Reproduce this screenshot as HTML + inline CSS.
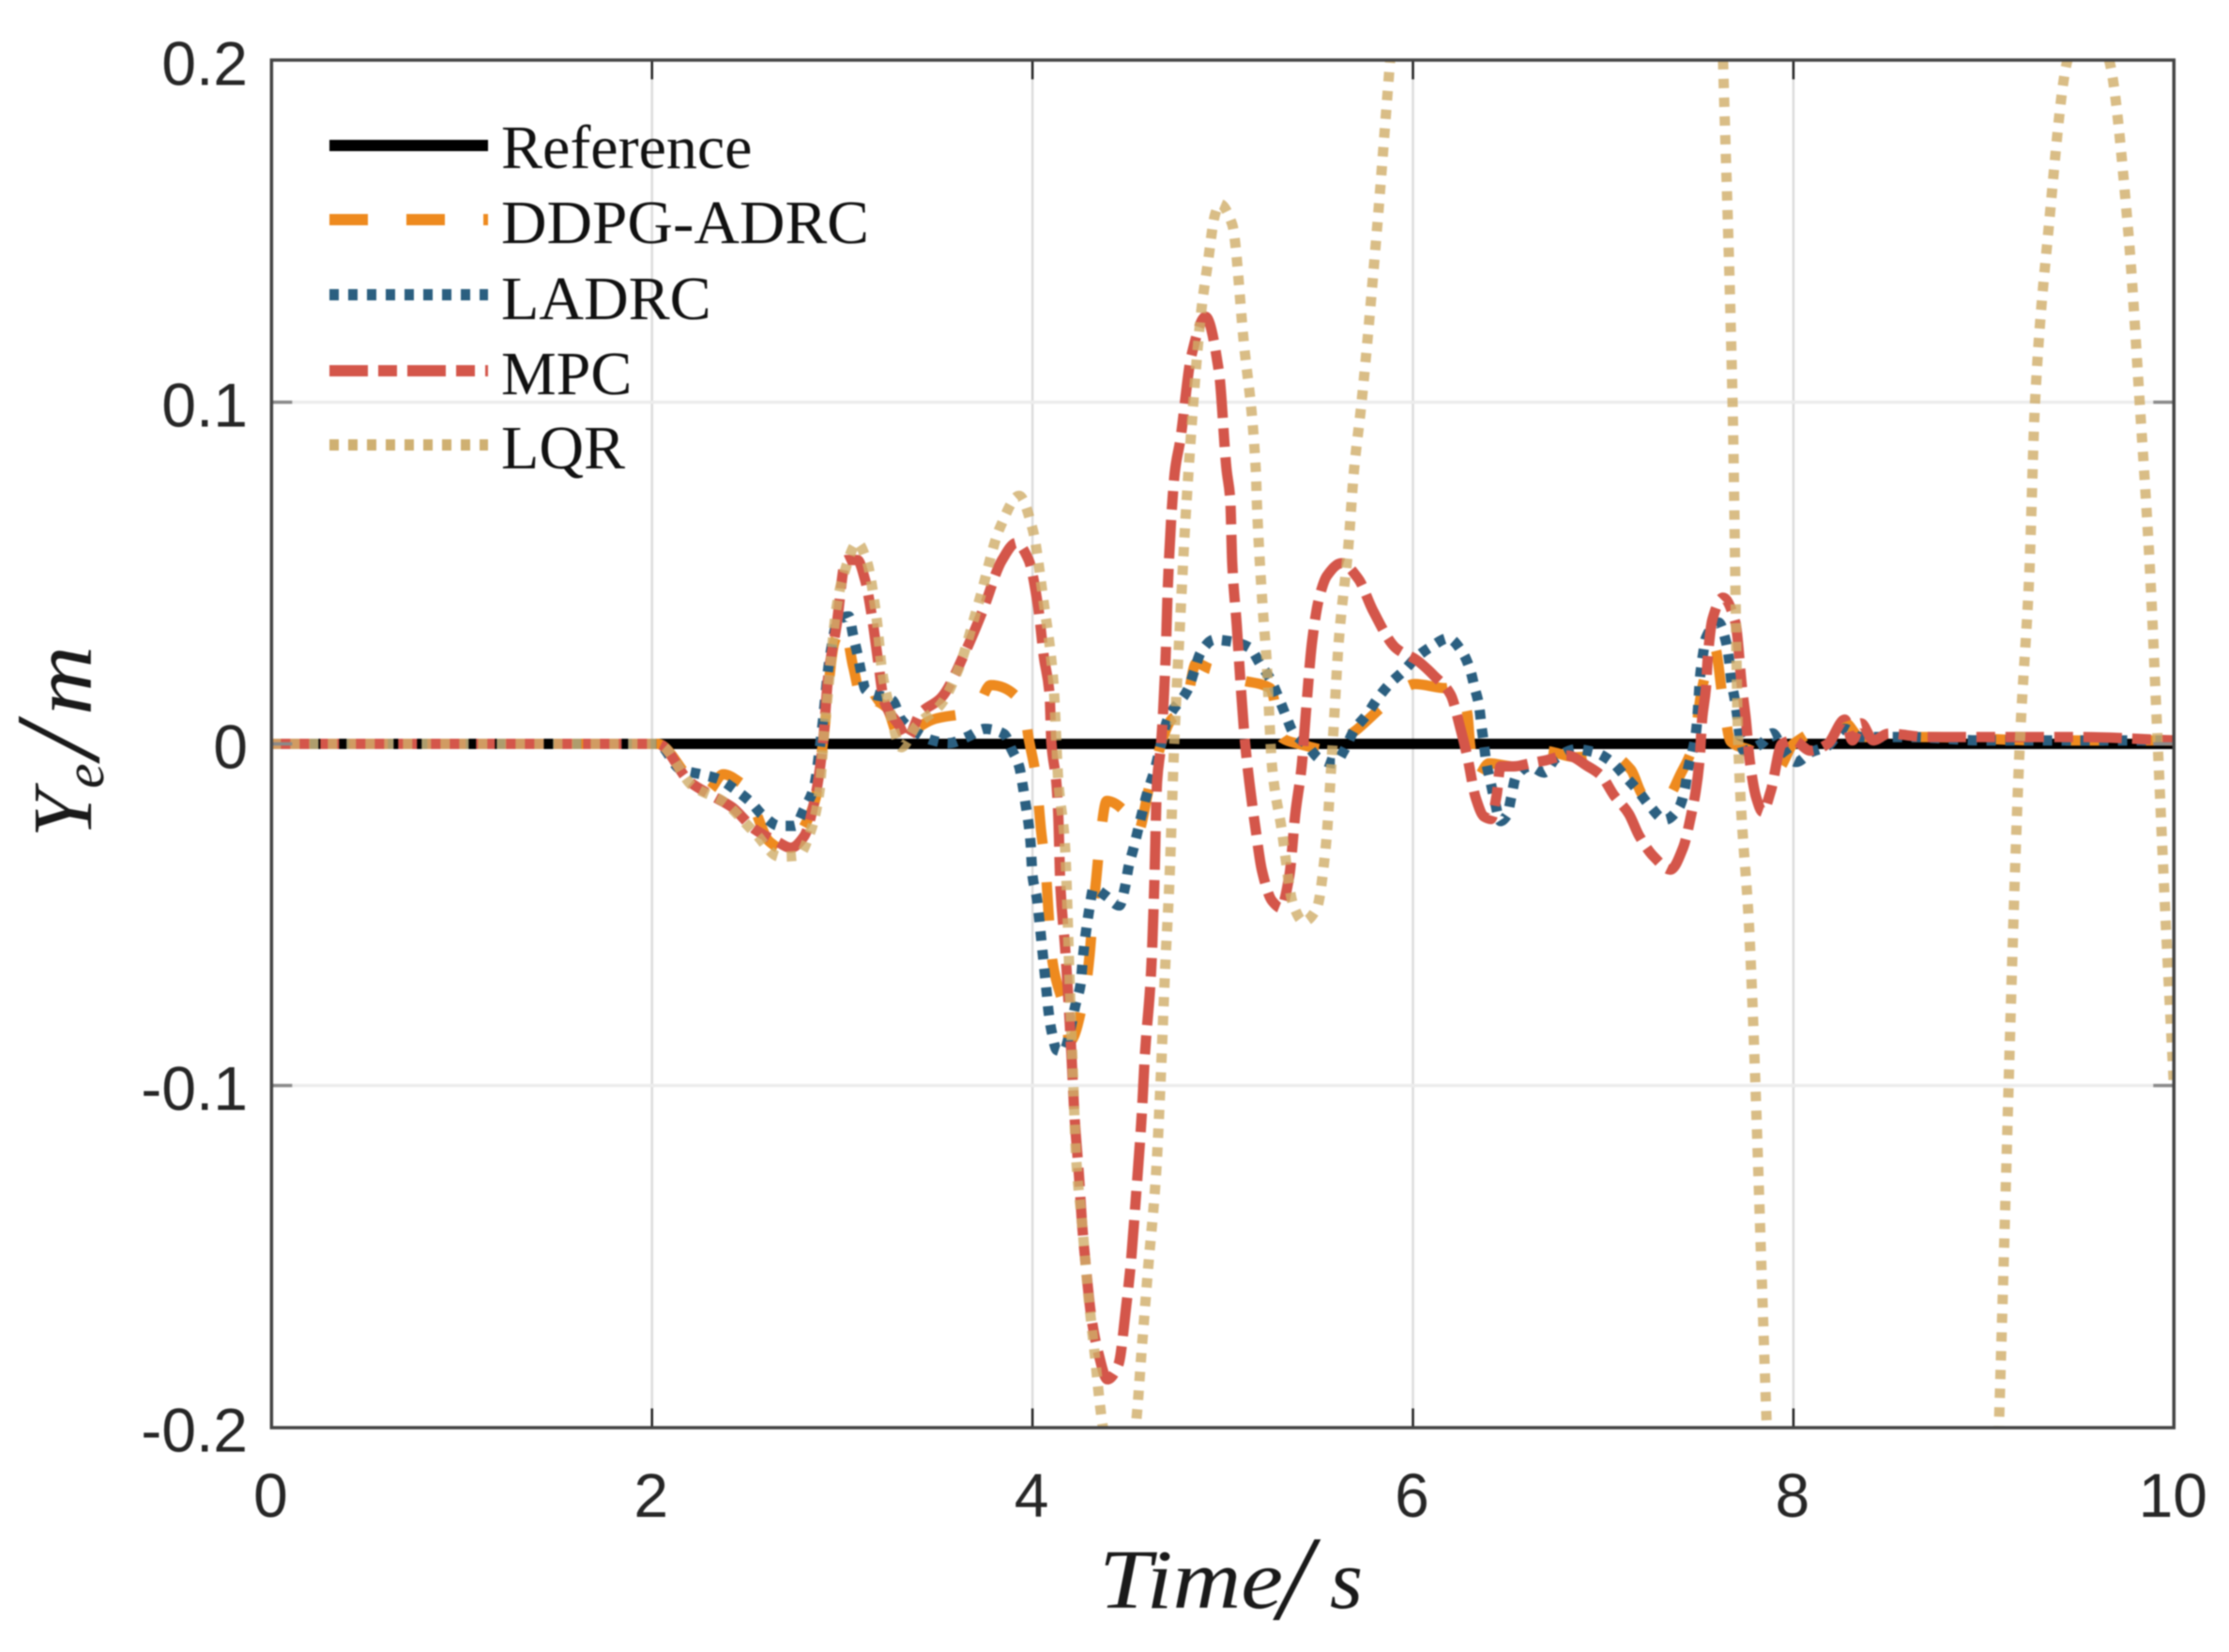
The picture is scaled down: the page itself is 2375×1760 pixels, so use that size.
<!DOCTYPE html>
<html lang="en">
<head>
<meta charset="utf-8">
<title>Lateral error Ye over time</title>
<style>
  html, body { margin: 0; padding: 0; background: #fff; }
  body { width: 2375px; height: 1760px; overflow: hidden; }
  svg { display: block; filter: blur(0.8px); }
  .tick-label { font-family: "Liberation Sans", sans-serif; font-size: 66px; fill: #262626; }
  .legend-label { font-family: "Liberation Serif", serif; font-size: 66px; fill: #111; }
  .axis-title { font-family: "Liberation Serif", serif; font-style: italic; font-size: 90px; fill: #1a1a1a; }
</style>
</head>
<body>
<svg id="chart" xmlns="http://www.w3.org/2000/svg" width="2375" height="1760" viewBox="0 0 2375 1760">
  <defs>
    <clipPath id="plot-clip"><rect x="289.3" y="64" width="2027" height="1457"></rect></clipPath>
  </defs>
  <rect x="0" y="0" width="2375" height="1760" fill="#fff"></rect>
  <g id="grid"></g>
  <g id="series" clip-path="url(#plot-clip)"></g>
  <g id="ticks"></g>
  <rect x="289.3" y="64" width="2027" height="1457" fill="none" stroke="#444" stroke-width="3.5"></rect>
  <g id="labels"></g>

  <g>
    <g>
      <line x1="351" x2="520" y1="155" y2="155" stroke="#000" stroke-width="12"></line>
      <text class="legend-label" x="534" y="179">Reference</text>
    </g>
    <g>
      <line x1="351" x2="520" y1="234" y2="234" stroke="#ee8a1e" stroke-width="12" stroke-dasharray="41 41"></line>
      <text class="legend-label" x="534" y="259" textLength="392" lengthAdjust="spacingAndGlyphs">DDPG-ADRC</text>
    </g>
    <g>
      <line x1="351" x2="520" y1="314" y2="314" stroke="#2b5f80" stroke-width="12" stroke-dasharray="10 10"></line>
      <text class="legend-label" x="534" y="340">LADRC</text>
    </g>
    <g>
      <line x1="351" x2="520" y1="395" y2="395" stroke="#d4564a" stroke-width="12" stroke-dasharray="41 11 20 11"></line>
      <text class="legend-label" x="534" y="420">MPC</text>
    </g>
    <g>
      <line x1="351" x2="520" y1="474" y2="474" stroke="#cfb072" stroke-width="12" stroke-dasharray="10 10"></line>
      <text class="legend-label" x="534" y="499">LQR</text>
    </g>
  </g>

  <text class="axis-title" y="1713"><tspan x="1171" textLength="196" lengthAdjust="spacingAndGlyphs">Time</tspan><tspan x="1362" style="font-size:128px" dy="12">/</tspan><tspan x="1417" dy="-12">s</tspan></text>
  <text class="axis-title" transform="translate(97,892) rotate(-90)"><tspan x="0" y="0">Y</tspan><tspan x="52" y="13" style="font-size:60px">e</tspan><tspan x="84" y="8" style="font-size:128px">/</tspan><tspan x="130" y="0" textLength="74" lengthAdjust="spacingAndGlyphs">m</tspan></text>
</svg>

<script>
const xTicks = [0, 2, 4, 6, 8, 10];
const xTickLabels = ["0", "2", "4", "6", "8", "10"];
const yTicks = [0.2, 0.1, 0, -0.1, -0.2];
const yTickLabels = ["0.2", "0.1", "0", "-0.1", "-0.2"];

const referencePoints = [[0,0],[10,0]];

const ddpgPoints = [[0,0],[2.03,0],[2.2,-.0103],[2.29,-.014],[2.374,-.0089],[2.46,-.0112],[2.52,-.015],[2.55,-.0204],[2.617,-.0286],[2.7,-.031],[2.81,-.0231],[2.86,-.016],[2.9,.001],[2.96,.03],[3.01,.0346],[3.057,.0227],[3.12,.0099],[3.167,.0126],[3.23,.0108],[3.31,.0007],[3.39,.0044],[3.475,.0071],[3.7,.0099],[3.78,.0172],[3.95,.0117],[3.98,.0016],[4.02,-.0102],[4.045,-.0253],[4.07,-.0372],[4.09,-.054],[4.106,-.064],[4.164,-.077],[4.197,-.087],[4.28,-.071],[4.3,-.062],[4.32,-.048],[4.335,-.0396],[4.356,-.0277],[4.39,-.0167],[4.51,-.0213],[4.55,-.0263],[4.62,-.0112],[4.73,.0071],[4.8,.0099],[4.86,.0236],[4.95,.0218],[4.995,.0218],[5.08,.019],[5.25,.0163],[5.316,.0016],[5.4,0],[5.58,-.002],[5.625,.0007],[5.71,.0044],[5.867,.0122],[6.01,.0175],[6.176,.0163],[6.23,.0172],[6.286,.0089],[6.3,0],[6.33,-.0103],[6.4,-.0057],[6.53,-.0066],[6.693,-.0021],[6.858,-.0039],[7.03,-.0029],[7.145,-.0075],[7.21,-.015],[7.32,-.0167],[7.41,-.0085],[7.475,0],[7.52,.0163],[7.586,.0282],[7.63,.0126],[7.67,.0007],[7.78,-.002],[7.915,-.0075],[8,0],[8.27,.0062],[8.35,.002],[8.7,.002],[9.3,.001],[10,.001]];

const ladrcPoints = [[0,0],[2.03,0],[2.15,-.0075],[2.264,-.009],[2.35,-.0103],[2.44,-.0135],[2.52,-.0171],[2.58,-.0208],[2.67,-.024],[2.75,-.024],[2.8,-.019],[2.85,-.013],[2.89,.0025],[2.935,.0254],[2.98,.0364],[3.035,.0373],[3.057,.0318],[3.08,.0263],[3.1,.0208],[3.123,.0158],[3.266,.0126],[3.31,.0071],[3.39,.0034],[3.465,.0012],[3.56,.0002],[3.66,.0021],[3.75,.0044],[3.85,.0029],[3.89,-.0016],[3.93,-.0066],[3.95,-.0126],[3.965,-.0181],[3.98,-.0236],[3.99,-.029],[4.0,-.0385],[4.024,-.0455],[4.035,-.051],[4.045,-.0565],[4.055,-.062],[4.065,-.0675],[4.075,-.073],[4.085,-.0786],[4.1,-.084],[4.128,-.0896],[4.16,-.09],[4.23,-.0755],[4.254,-.07],[4.262,-.0645],[4.272,-.059],[4.285,-.0535],[4.3,-.048],[4.32,-.0424],[4.386,-.0445],[4.457,-.0473],[4.488,-.0415],[4.505,-.036],[4.53,-.0308],[4.577,-.02],[4.6,-.015],[4.643,-.0075],[4.676,0],[4.71,.0071],[4.82,.0163],[4.85,.0213],[4.885,.0268],[4.955,.0305],[5.04,.03],[5.14,.0282],[5.2,.0231],[5.25,.019],[5.294,.0135],[5.334,.008],[5.37,.0034],[5.437,0],[5.51,-.0044],[5.59,-.0057],[5.636,-.0021],[5.695,.0044],[5.757,.0085],[5.812,.0131],[5.878,.0176],[5.95,.0213],[6.02,.0254],[6.1,.0286],[6.186,.0309],[6.26,.0268],[6.3,.0218],[6.325,.0163],[6.347,.0113],[6.36,.0053],[6.373,0],[6.385,-.0053],[6.406,-.0107],[6.43,-.0168],[6.46,-.0226],[6.495,-.0208],[6.517,-.0155],[6.54,-.0098],[6.616,-.0066],[6.69,-.0084],[6.75,-.0043],[6.858,-.0016],[6.957,-.0025],[7.045,-.0053],[7.12,-.0098],[7.18,-.0135],[7.244,-.0181],[7.325,-.0222],[7.4,-.0185],[7.43,-.013],[7.445,-.0075],[7.47,-.002],[7.486,.0025],[7.497,.009],[7.51,.02],[7.525,.0263],[7.54,.031],[7.607,.0355],[7.645,.03],[7.662,.0245],[7.673,.0186],[7.69,.0135],[7.706,.0076],[7.717,.0025],[7.74,-.002],[7.83,0],[7.89,.0031],[7.94,-.001],[8.015,-.0053],[8.09,-.0025],[8.18,-.0006],[8.27,.0044],[8.35,.002],[8.6,.002],[9,.001],[10,.001]];

const mpcPoints = [[0,0],[2.03,0],[2.2,-.0112],[2.31,-.015],[2.42,-.0185],[2.54,-.025],[2.66,-.0287],[2.73,-.0304],[2.8,-.027],[2.86,-.015],[2.9,.001],[2.925,.019],[2.97,.0346],[3.02,.0538],[3.08,.0538],[3.12,.048],[3.156,.0373],[3.19,.0236],[3.22,.0126],[3.3,.0053],[3.34,.0016],[3.41,.0089],[3.52,.0135],[3.65,.0273],[3.74,.0392],[3.84,.0538],[3.915,.0588],[3.98,.0538],[4.03,.04],[4.06,.0254],[4.09,.0144],[4.1,0],[4.125,-.011],[4.135,-.02],[4.147,-.042],[4.172,-.06],[4.205,-.091],[4.22,-.108],[4.246,-.1276],[4.26,-.14],[4.279,-.152],[4.31,-.168],[4.345,-.178],[4.394,-.186],[4.452,-.1816],[4.493,-.1644],[4.517,-.152],[4.542,-.134],[4.575,-.108],[4.591,-.091],[4.624,-.0663],[4.64,-.042],[4.655,-.011],[4.676,0],[4.7,.0254],[4.71,.0437],[4.73,.0666],[4.75,.0804],[4.776,.0886],[4.835,.1135],[4.91,.125],[4.98,.109],[5.02,.0804],[5.04,.0712],[5.05,.053],[5.074,.0346],[5.096,.016],[5.118,0],[5.14,-.0112],[5.173,-.025],[5.206,-.037],[5.26,-.046],[5.305,-.048],[5.35,-.0387],[5.382,-.0203],[5.415,-.0066],[5.437,.009],[5.47,.03],[5.504,.042],[5.548,.0492],[5.625,.0529],[5.713,.0483],[5.79,.039],[5.911,.028],[6.02,.0245],[6.11,.02],[6.197,.0145],[6.25,.0044],[6.286,-.0038],[6.33,-.0158],[6.374,-.0213],[6.41,-.022],[6.44,-.015],[6.46,-.0066],[6.53,-.0066],[6.616,-.0057],[6.7,-.0048],[6.81,-.0034],[6.92,-.0066],[6.99,-.0093],[7.056,-.015],[7.134,-.0204],[7.19,-.027],[7.266,-.033],[7.354,-.0368],[7.42,-.0304],[7.464,-.0204],[7.486,-.014],[7.508,-.0038],[7.52,.0071],[7.54,.0163],[7.55,.0254],[7.574,.0364],[7.63,.0428],[7.695,.0355],[7.73,.0163],[7.75,.0071],[7.77,-.0048],[7.805,-.0158],[7.838,-.0199],[7.88,-.014],[7.94,0],[8,.001],[8.09,-.002],[8.18,0],[8.27,.0071],[8.31,.001],[8.356,.006],[8.42,.001],[8.5,.003],[8.7,.002],[9,.002],[9.5,.002],[10,.001]];

const lqrPoints = [[0,0],[2.03,0],[2.22,-.0126],[2.37,-.0167],[2.54,-.026],[2.67,-.033],[2.77,-.0327],[2.826,-.0268],[2.88,-.014],[2.9,-.0002],[2.935,.021],[2.97,.04],[3.01,.05],[3.08,.0588],[3.13,.0533],[3.18,.037],[3.21,.021],[3.24,.0126],[3.31,-.001],[3.39,.0053],[3.52,.0117],[3.61,.0218],[3.72,.0419],[3.83,.0634],[3.93,.0726],[4,.063],[4.06,.041],[4.11,.018],[4.136,-.011],[4.17,-.029],[4.197,-.0725],[4.213,-.097],[4.23,-.1215],[4.26,-.14],[4.295,-.162],[4.328,-.179],[4.353,-.1926],[4.37,-.2],[4.455,-.225],[4.542,-.2],[4.575,-.1767],[4.608,-.1534],[4.649,-.1264],[4.674,-.098],[4.698,-.065],[4.72,-.04],[4.745,0],[4.775,.0346],[4.81,.071],[4.89,.128],[4.92,.14],[4.96,.155],[4.985,.158],[5.05,.152],[5.11,.118],[5.174,.08],[5.18,.07],[5.21,.04],[5.23,.025],[5.26,-.007],[5.31,-.025],[5.37,-.047],[5.425,-.052],[5.495,-.048],[5.54,-.031],[5.58,.002],[5.61,.03],[5.66,.0575],[5.69,.08],[5.73,.1],[5.81,.15],[5.88,.2],[5.9,.2135],[6.7,.216],[7.625,.21],[7.63,.2],[7.68,.1],[7.71,0],[7.77,-.057],[7.86,-.2],[7.87,-.215],[8.45,-.26],[9.07,-.218],[9.08,-.2],[9.19,0],[9.24,.05],[9.27,.1],[9.34,.15],[9.44,.2],[9.55,.214],[9.66,.2],[9.76,.15],[9.82,.1],[9.875,.05],[9.915,0],[9.955,-.05],[10,-.1]];

const xAxis = (t) => 289.3 + t * 202.7;
const yAxis = (v) => 792.5 - v * 3640;
const SVG_NS = "http://www.w3.org/2000/svg";

function make(tag, attrs, parent) {
  const el = document.createElementNS(SVG_NS, tag);
  for (const k in attrs) el.setAttribute(k, attrs[k]);
  parent.appendChild(el);
  return el;
}

function curvePath(points) {
  const pts = points.slice().sort((a, b) => a[0] - b[0]).filter((p, i, arr) => i === 0 || p[0] > arr[i - 1][0]);
  const n = pts.length;
  const h = [], s = [], m = new Array(n).fill(0);
  for (let i = 0; i < n - 1; i++) {
    h[i] = pts[i + 1][0] - pts[i][0];
    s[i] = (pts[i + 1][1] - pts[i][1]) / h[i];
  }
  m[0] = s[0];
  m[n - 1] = s[n - 2];
  for (let i = 1; i < n - 1; i++) {
    if (s[i - 1] * s[i] <= 0) {
      m[i] = 0;
    } else {
      const w1 = 2 * h[i] + h[i - 1], w2 = h[i] + 2 * h[i - 1];
      m[i] = (w1 + w2) / (w1 / s[i - 1] + w2 / s[i]);
    }
  }
  let d = "M" + xAxis(pts[0][0]).toFixed(2) + " " + yAxis(pts[0][1]).toFixed(2);
  for (let i = 0; i < n - 1; i++) {
    const c1t = pts[i][0] + h[i] / 3, c1v = pts[i][1] + m[i] * h[i] / 3;
    const c2t = pts[i + 1][0] - h[i] / 3, c2v = pts[i + 1][1] - m[i + 1] * h[i] / 3;
    d += "C" + xAxis(c1t).toFixed(2) + " " + yAxis(c1v).toFixed(2) + " " +
         xAxis(c2t).toFixed(2) + " " + yAxis(c2v).toFixed(2) + " " +
         xAxis(pts[i + 1][0]).toFixed(2) + " " + yAxis(pts[i + 1][1]).toFixed(2);
  }
  return d;
}

const gridGroup = document.getElementById("grid");
const tickGroup = document.getElementById("ticks");
const labelGroup = document.getElementById("labels");
const seriesGroup = document.getElementById("series");

xTicks.forEach((t, i) => {
  if (t !== 0 && t !== 10) {
    const g = make("line", { x1: xAxis(t), x2: xAxis(t), y1: yAxis(0.2), y2: yAxis(-0.2), stroke: "#dcdcdc", "stroke-width": 2.5 }, gridGroup);
    
    
    const top = make("line", { x1: xAxis(t), x2: xAxis(t), y1: yAxis(0.2), y2: yAxis(0.2) + 20, stroke: "#222", "stroke-width": 2.5 }, tickGroup);
    
    
    const bottom = make("line", { x1: xAxis(t), x2: xAxis(t), y1: yAxis(-0.2), y2: yAxis(-0.2) - 20, stroke: "#222", "stroke-width": 2.5 }, tickGroup);
    
    
  }
  const label = make("text", { class: "tick-label", x: xAxis(t) - 1, y: 1616, "text-anchor": "middle" }, labelGroup);
  label.textContent = xTickLabels[i];
  
  
});

yTicks.forEach((v, i) => {
  if (v !== 0.2 && v !== -0.2) {
    const g = make("line", { x1: xAxis(0), x2: xAxis(10), y1: yAxis(v), y2: yAxis(v), stroke: "#ececec", "stroke-width": 3.5 }, gridGroup);
    
    
    const left = make("line", { x1: xAxis(0), x2: xAxis(0) + 22, y1: yAxis(v), y2: yAxis(v), stroke: "#8a8a8a", "stroke-width": 3.5 }, tickGroup);
    
    
    const right = make("line", { x1: xAxis(10), x2: xAxis(10) - 22, y1: yAxis(v), y2: yAxis(v), stroke: "#8a8a8a", "stroke-width": 3.5 }, tickGroup);
    
    
  }
  const label = make("text", { class: "tick-label", x: 264, y: yAxis(v) + 26, "text-anchor": "end" }, labelGroup);
  label.textContent = yTickLabels[i];
  
  
});

const refLine = make("path", { d: curvePath(referencePoints), fill: "none", stroke: "#000", "stroke-width": 11 }, seriesGroup);



const ddpgLine = make("path", { d: curvePath(ddpgPoints), fill: "none", stroke: "#ee8a1e", "stroke-width": 11, "stroke-dasharray": "41 41" }, seriesGroup);



const ladrcLine = make("path", { d: curvePath(ladrcPoints), fill: "none", stroke: "#2b5f80", "stroke-width": 11, "stroke-dasharray": "10 10" }, seriesGroup);



const mpcLine = make("path", { d: curvePath(mpcPoints), fill: "none", stroke: "#d4564a", "stroke-width": 11, "stroke-dasharray": "41 11 20 11" }, seriesGroup);



const lqrLine = make("path", { d: curvePath(lqrPoints), fill: "none", stroke: "#d0ad68", "stroke-width": 11, "stroke-dasharray": "10 10", opacity: "0.8" }, seriesGroup);


</script>
</body>
</html>
